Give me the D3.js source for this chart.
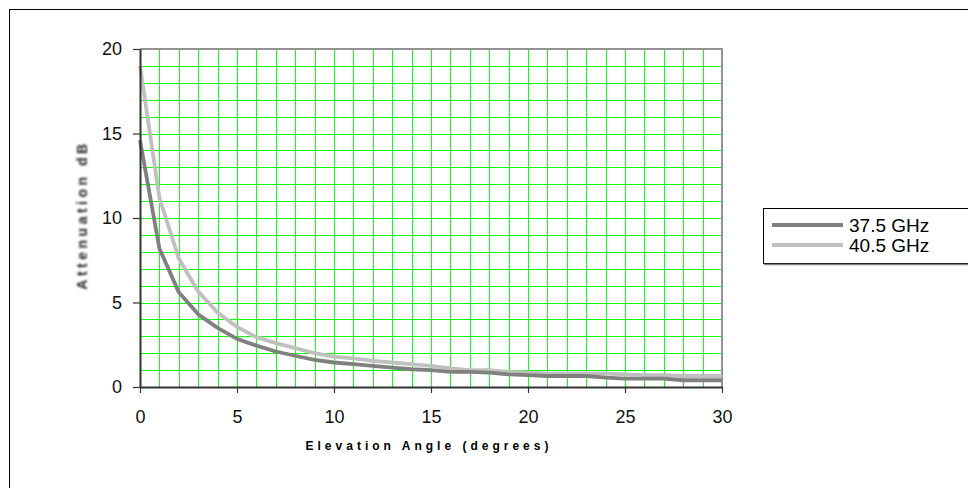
<!DOCTYPE html>
<html>
<head>
<meta charset="utf-8">
<script src="https://cdn.jsdelivr.net/npm/d3@7"></script>
<style>
  body { margin: 0; background: #fff; }
  svg { display: block; font-family: "Liberation Sans", Arial, sans-serif; }
</style>
</head>
<body>
<div id="chart-area"></div>
<script>
// elevation angles (degrees)
var angles = d3.range(0, 31);
// attenuation values (dB)
var att375 = [14.6, 8.2, 5.6, 4.3, 3.5, 2.85, 2.45, 2.1, 1.85, 1.6, 1.45, 1.35, 1.25, 1.15, 1.05, 1.0,
              0.9, 0.9, 0.85, 0.75, 0.7, 0.65, 0.65, 0.65, 0.55, 0.5, 0.5, 0.5, 0.4, 0.4, 0.4];
var att405 = [19.0, 11.2, 7.6, 5.65, 4.4, 3.55, 2.95, 2.6, 2.3, 2.0, 1.8, 1.7, 1.55, 1.45, 1.35, 1.25,
              1.1, 1.0, 1.0, 0.9, 0.85, 0.8, 0.8, 0.8, 0.8, 0.75, 0.7, 0.7, 0.65, 0.65, 0.65];
var seriesNames = ["37.5 GHz", "40.5 GHz"];
var seriesColors = ["#808080", "#c0c0c0"];
var xTicks = [0, 5, 10, 15, 20, 25, 30];
var yTicks = [0, 5, 10, 15, 20];

var width = 968, height = 488;
var margin = {top: 49, left: 140};
var plotW = 582, plotH = 338;

var svg = d3.select("#chart-area")
  .append("svg")
    .attr("width", width)
    .attr("height", height);

// outer chart frame (runs off the page)
svg.append("rect")
  .attr("x", 9.5).attr("y", 9.5)
  .attr("width", 1000).attr("height", 600)
  .attr("fill", "none").attr("stroke", "#000").attr("stroke-width", 1);

var g = svg.append("g")
  .attr("transform", "translate(" + margin.left + "," + margin.top + ")");

var x = d3.scaleLinear().domain([0, 30]).range([0, plotW]);
var y = d3.scaleLinear().domain([0, 20]).range([plotH, 0]);

// green grid every unit
g.selectAll(".vgrid").data(d3.range(1, 30))
  .enter().append("line")
    .attr("x1", d => Math.round(x(d)) + 0.5).attr("x2", d => Math.round(x(d)) + 0.5)
    .attr("y1", 0).attr("y2", plotH)
    .attr("stroke", "#11ff11").attr("stroke-width", 1);
g.selectAll(".hgrid").data(d3.range(1, 20))
  .enter().append("line")
    .attr("y1", d => Math.round(y(d)) + 0.5).attr("y2", d => Math.round(y(d)) + 0.5)
    .attr("x1", 0).attr("x2", plotW)
    .attr("stroke", "#11ff11").attr("stroke-width", 1);

// top and right border
g.append("path")
  .attr("d", "M0,0H" + plotW + "V" + plotH)
  .attr("fill", "none").attr("stroke", "#929292").attr("stroke-width", 2);

// lines (light one underneath)
var line = d3.line().x((d, i) => x(angles[i])).y(d => y(d));
[att405, att375].forEach(function(vals, k) {
  g.append("path")
    .datum(vals)
    .attr("d", line)
    .attr("fill", "none")
    .attr("stroke", seriesColors[1 - k])
    .attr("stroke-width", 3.8)
    .attr("stroke-linejoin", "round");
});

// axes
var xAxis = d3.axisBottom(x).tickValues(xTicks).tickSize(6).tickSizeOuter(0).tickPadding(17);
var yAxis = d3.axisLeft(y).tickValues(yTicks).tickSize(7).tickSizeOuter(0).tickPadding(11);

var xg = g.append("g").attr("transform", "translate(0," + plotH + ")").call(xAxis);
var yg = g.append("g").call(yAxis);
[xg, yg].forEach(function(a) {
  a.select(".domain").attr("stroke", "#333").attr("stroke-width", 2);
  a.selectAll(".tick line").attr("stroke", "#333").attr("stroke-width", 1.2);
  a.selectAll(".tick text").attr("font-size", "18px").attr("fill", "#111")
    .attr("font-family", "'Liberation Sans', Arial, sans-serif");
});

// axis titles
g.append("text")
  .attr("x", plotW / 2 - 2)
  .attr("y", plotH + 63)
  .attr("text-anchor", "middle")
  .attr("font-size", "12px")
  .attr("font-weight", "bold")
  .attr("letter-spacing", "4px")
  .attr("fill", "#000")
  .text("Elevation Angle (degrees)");

g.append("text")
  .attr("transform", "rotate(-90)")
  .attr("x", -plotH / 2 + 3)
  .attr("y", -53)
  .attr("text-anchor", "middle")
  .attr("font-size", "14px")
  .attr("font-weight", "bold")
  .attr("letter-spacing", "3.5px")
  .attr("fill", "#222")
  .style("filter", "blur(0.8px)")
  .text("Attenuation dB");

// legend
var lg = svg.append("g").attr("transform", "translate(763,208)");
lg.append("rect")
  .attr("x", 0.5).attr("y", 0.5).attr("width", 260).attr("height", 55)
  .attr("fill", "#fff").attr("stroke", "#000").attr("stroke-width", 1);
lg.append("line")
  .attr("x1", 1).attr("x2", 260).attr("y1", 56.5).attr("y2", 56.5)
  .attr("stroke", "#808080").attr("stroke-width", 1.5);
seriesNames.forEach(function(name, i) {
  var yy = 17 + i * 20;
  lg.append("line")
    .attr("x1", 9).attr("x2", 80).attr("y1", yy).attr("y2", yy)
    .attr("stroke", seriesColors[i]).attr("stroke-width", 3.8);
  lg.append("text")
    .attr("x", 86).attr("y", yy + 7)
    .attr("font-size", "19px")
    .attr("fill", "#000")
    .text(name);
});
</script>
</body>
</html>
